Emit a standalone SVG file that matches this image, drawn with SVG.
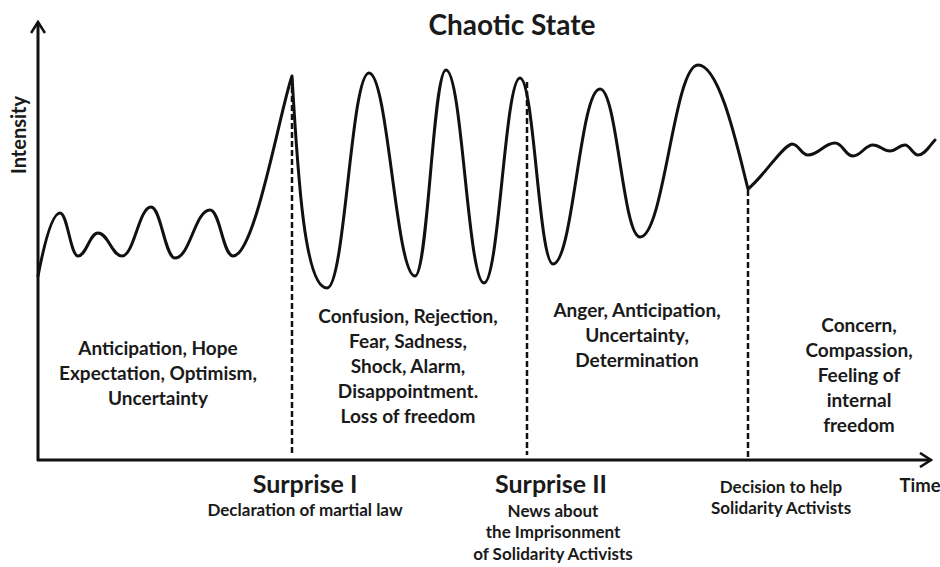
<svg xmlns="http://www.w3.org/2000/svg" width="940" height="567" viewBox="0 0 940 567">
<defs>
<style>
text{font-family:Lato,"Open Sans","Liberation Sans",sans-serif;font-weight:bold;fill:#1a1a1a;text-anchor:middle}
.lbl{font-size:19px}
.small{font-size:17px}
.big{font-size:25px}
.axis{stroke:#111;stroke-width:3;fill:none}
.dash{stroke:#111;stroke-width:2.5;stroke-dasharray:6 3;fill:none}
.curve{stroke:#111;stroke-width:3;fill:none;stroke-linejoin:round;stroke-linecap:round}
</style>
<marker id="arr" viewBox="0 0 14 16" refX="12" refY="8" markerWidth="14" markerHeight="16" markerUnits="userSpaceOnUse" orient="auto">
<path d="M1,1 L12,8 L1,15" fill="none" stroke="#111" stroke-width="2.6"/>
</marker>
</defs>
<rect width="940" height="567" fill="#fff"/>
<g id="axes">
<line class="axis" x1="38" y1="461" x2="38" y2="22" marker-end="url(#arr)"/>
<line class="axis" x1="37" y1="460" x2="931" y2="460" marker-end="url(#arr)"/>
</g>
<g id="connectors">
<line class="dash" x1="292" y1="78" x2="292" y2="455"/>
<line class="dash" x1="527" y1="82" x2="527" y2="455"/>
<line class="dash" x1="748" y1="190" x2="748" y2="460"/>
</g>
<g id="curve">
<path class="curve" d="M38,276 C44,245 52,213 60,213 C67.5,213 70.5,256 78,256 C86.4,256 89.6,233 98,233 C108,233 112,256 122,256 C134,256 139,207 151,207 C161,207 165,258 175,258 C190,258 195,210 210,210 C220,210 223,256 233,256 C255,256 280,110 292,76 C298,180 305,288 327,288 C345,288 351,73 369,73 C388,73 396,276 415,276 C428,276 433,70 446,70 C462,70 468,283 484,283 C499,283 505,78 520,78 C534,78 539,264 553,264 C573,264 580,89 600,89 C617,89 623,237 640,237 C664,237 674,65 698,65 C720,65 738,150 748,189 C765,175 782,146 792,144 C799,144 801,155 808,155 C819,155 824,143 835,143 C843,143 845,156 853,156 C861,156 865,145 873,145 C880,145 883,151 890,151 C896,151 899,145 905,145 C910,145 913,155 918,155 C925,155 930,145 935,140"/>
</g>
<g id="title"><text x="512" y="35" style="font-size:28px">Chaotic State</text></g>
<g id="ylabel"><text transform="translate(26,135) rotate(-90)" style="font-size:20px">Intensity</text></g>
<g id="xlabel"><text x="920" y="492" style="font-size:18.5px">Time</text></g>
<g id="phase1">
<text class="lbl" x="158" y="355">Anticipation, Hope</text>
<text class="lbl" x="158" y="380">Expectation, Optimism,</text>
<text class="lbl" x="158" y="405">Uncertainty</text>
</g>
<g id="phase2">
<text class="lbl" x="408" y="323">Confusion, Rejection,</text>
<text class="lbl" x="408" y="348">Fear, Sadness,</text>
<text class="lbl" x="408" y="373">Shock, Alarm,</text>
<text class="lbl" x="408" y="398">Disappointment.</text>
<text class="lbl" x="408" y="423">Loss of freedom</text>
</g>
<g id="phase3">
<text class="lbl" x="637" y="317">Anger, Anticipation,</text>
<text class="lbl" x="637" y="342">Uncertainty,</text>
<text class="lbl" x="637" y="367">Determination</text>
</g>
<g id="phase4">
<text class="lbl" x="859" y="332">Concern,</text>
<text class="lbl" x="859" y="357">Compassion,</text>
<text class="lbl" x="859" y="382">Feeling of</text>
<text class="lbl" x="859" y="407">internal</text>
<text class="lbl" x="859" y="432">freedom</text>
</g>
<g id="surprise1">
<text class="big" x="305" y="493">Surprise I</text>
<text class="small" x="305" y="516">Declaration of martial law</text>
</g>
<g id="surprise2">
<text class="big" x="551" y="493">Surprise II</text>
<text class="small" x="553" y="517">News about</text>
<text class="small" x="553" y="538">the Imprisonment</text>
<text class="small" x="553" y="560">of Solidarity Activists</text>
</g>
<g id="decision">
<text class="small" x="781" y="493">Decision to help</text>
<text class="small" x="781" y="514">Solidarity Activists</text>
</g>
</svg>
